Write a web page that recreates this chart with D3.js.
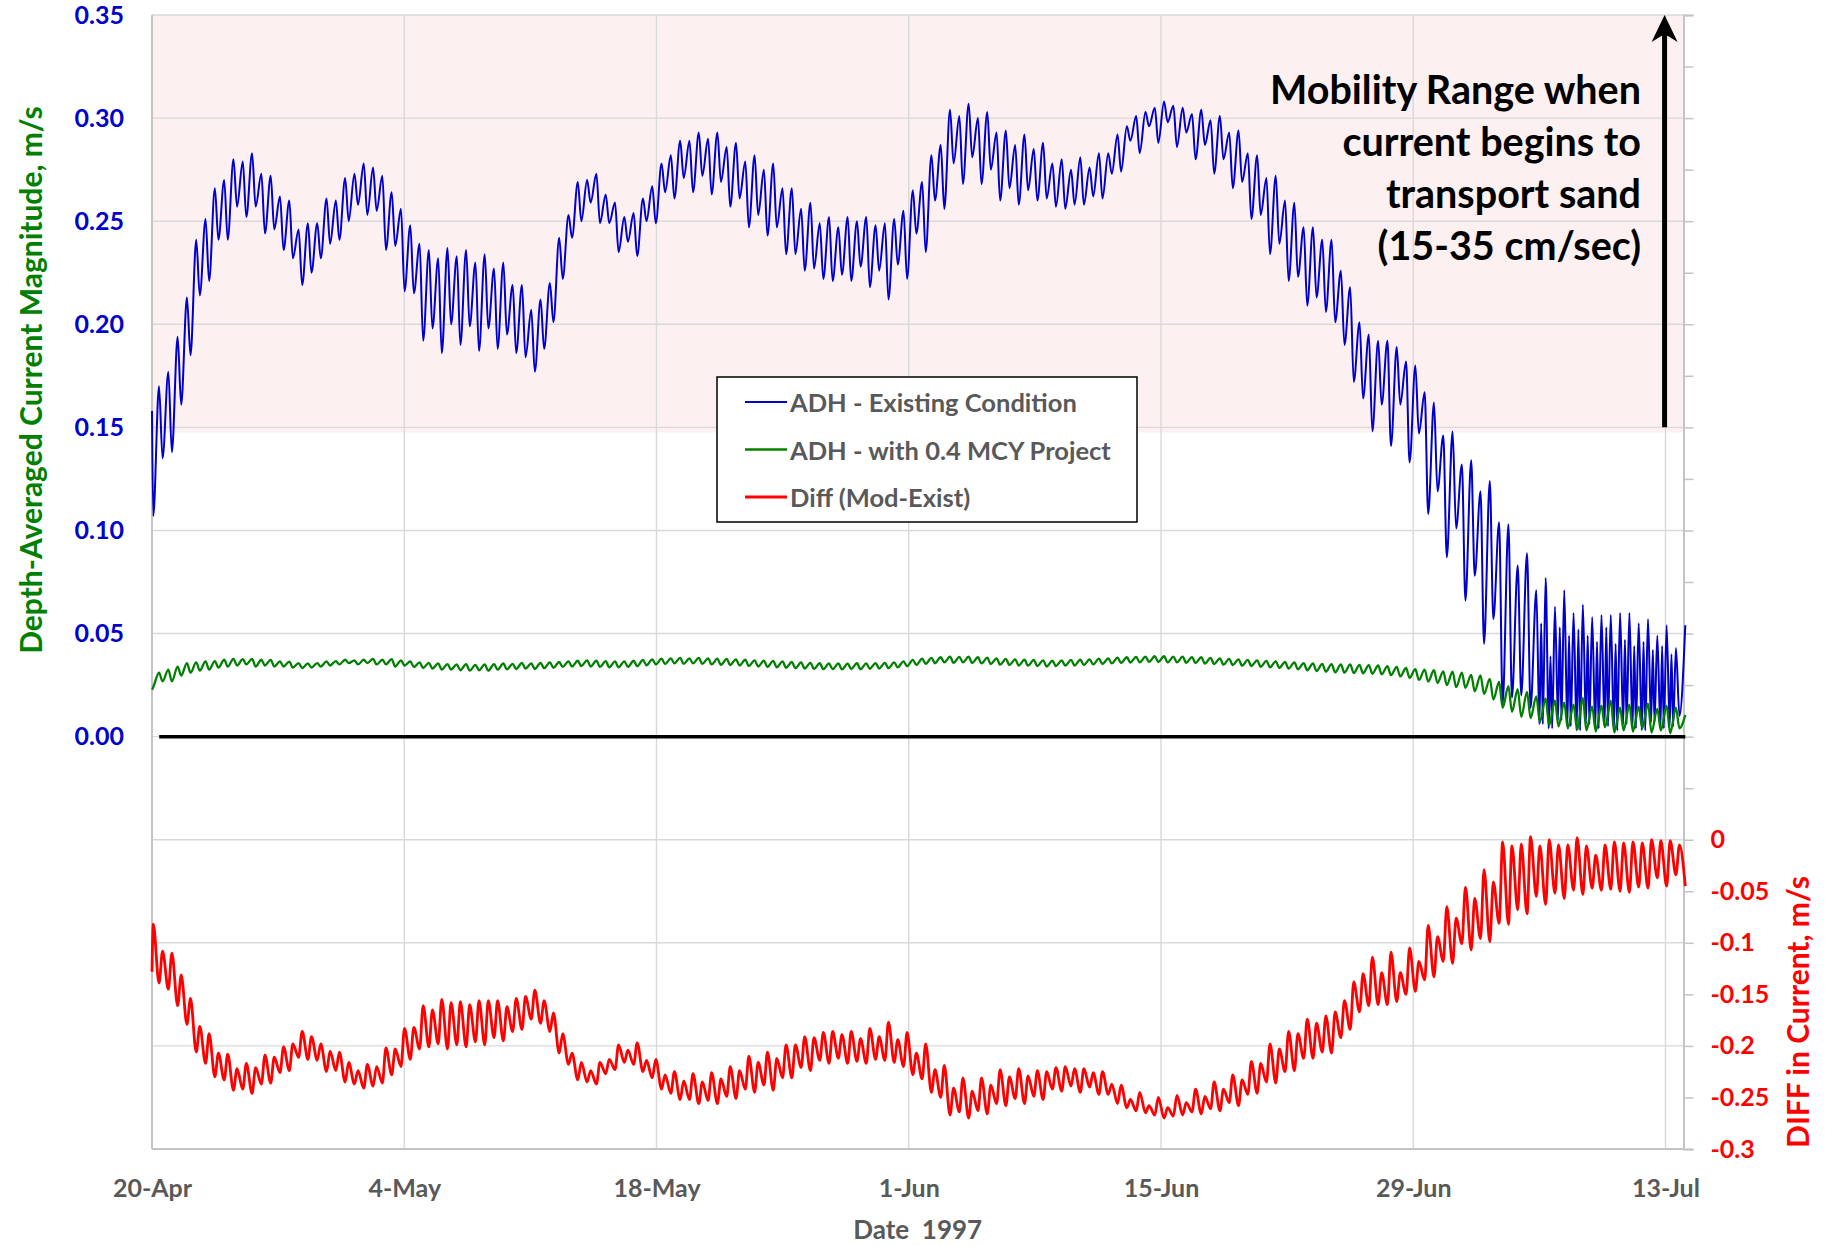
<!DOCTYPE html>
<html>
<head>
<meta charset="utf-8">
<script src="https://cdn.jsdelivr.net/npm/d3@7"></script>
<style>
  body { margin: 0; background: #fff; }
  svg text { font-family: Lato, "Open Sans", sans-serif; font-weight: bold; }
</style>
</head>
<body>
<div id="chart"></div>
<script>
// Model output, 20-Apr to 14-Jul 1997. The series are stored as the tidal
// highs and lows, one pair per M2 cycle.
var startDate = Date.UTC(1997, 3, 20);
var endDate = Date.UTC(1997, 6, 14);
var firstPeakDay = 0.39;     // first tidal high, days after 20-Apr
var cycleDays = 0.5165;      // spacing of tidal highs
var lastDay = 85.1;          // last model record

// ADH - Existing Condition (m/s)
var existingStart = 0.158, existingEnd = 0.054;
var existingPeaks = [
  0.170, 0.177, 0.194, 0.213, 0.241, 0.251, 0.266, 0.270, 0.280, 0.279,
  0.283, 0.273, 0.272, 0.262, 0.260, 0.246, 0.249, 0.249, 0.261, 0.260,
  0.271, 0.273, 0.278, 0.276, 0.272, 0.264, 0.256, 0.248, 0.239, 0.236,
  0.232, 0.237, 0.233, 0.236, 0.230, 0.234, 0.227, 0.230, 0.219, 0.219,
  0.207, 0.212, 0.220, 0.242, 0.253, 0.269, 0.270, 0.273, 0.263, 0.259,
  0.252, 0.254, 0.261, 0.267, 0.278, 0.282, 0.289, 0.289, 0.293, 0.290,
  0.293, 0.286, 0.288, 0.279, 0.282, 0.275, 0.278, 0.266, 0.266, 0.256,
  0.259, 0.249, 0.252, 0.247, 0.252, 0.250, 0.252, 0.248, 0.249, 0.251,
  0.255, 0.265, 0.269, 0.282, 0.287, 0.304, 0.301, 0.307, 0.300, 0.303,
  0.293, 0.294, 0.287, 0.292, 0.285, 0.288, 0.278, 0.280, 0.275, 0.281,
  0.276, 0.283, 0.283, 0.292, 0.296, 0.301, 0.303, 0.305, 0.308, 0.306,
  0.305, 0.302, 0.304, 0.299, 0.301, 0.293, 0.294, 0.283, 0.282, 0.271,
  0.272, 0.260, 0.259, 0.247, 0.247, 0.241, 0.241, 0.226, 0.218, 0.201,
  0.195, 0.192, 0.192, 0.189, 0.182, 0.180, 0.167, 0.162, 0.146, 0.148,
  0.132, 0.134, 0.119, 0.124, 0.104, 0.103, 0.083, 0.089, 0.071, 0.077,
  0.063, 0.071, 0.060, 0.064, 0.058, 0.059, 0.059, 0.060, 0.060, 0.055,
  0.057, 0.049, 0.054, 0.043
];
var existingLows = [
  0.107,
  0.135, 0.138, 0.161, 0.185, 0.214, 0.221, 0.241, 0.241, 0.257, 0.252,
  0.257, 0.244, 0.246, 0.236, 0.232, 0.219, 0.225, 0.232, 0.239, 0.241,
  0.250, 0.258, 0.253, 0.255, 0.236, 0.238, 0.216, 0.215, 0.192, 0.198,
  0.186, 0.200, 0.190, 0.199, 0.187, 0.198, 0.188, 0.195, 0.186, 0.184,
  0.177, 0.188,
  0.201, 0.222, 0.242, 0.250, 0.259, 0.249, 0.249, 0.235, 0.240, 0.233,
  0.250, 0.249, 0.264, 0.261, 0.271, 0.264, 0.272, 0.263, 0.269, 0.257,
  0.261, 0.247, 0.253, 0.243, 0.247, 0.234, 0.234, 0.226, 0.227, 0.222,
  0.221, 0.224, 0.221, 0.228, 0.218, 0.226, 0.212, 0.229, 0.222, 0.244,
  0.235, 0.260, 0.256, 0.278, 0.268, 0.281, 0.268, 0.275, 0.260, 0.266,
  0.258, 0.265, 0.260, 0.261, 0.257, 0.256, 0.258, 0.258, 0.262, 0.261,
  0.273, 0.274, 0.289, 0.283, 0.296, 0.288, 0.298, 0.286, 0.293, 0.280,
  0.287, 0.273, 0.280, 0.266, 0.269, 0.251, 0.253, 0.234, 0.239, 0.221,
  0.223, 0.209, 0.213, 0.206, 0.201, 0.190, 0.172, 0.164, 0.148, 0.161,
  0.141, 0.161, 0.133, 0.147, 0.108, 0.119, 0.087, 0.101, 0.066, 0.078,
  0.045, 0.057, 0.016, 0.019, 0.020, 0.014, 0.006, 0.004, 0.008, 0.005,
  0.003, 0.006, 0.004, 0.005, 0.003, 0.006, 0.004, 0.003, 0.007, 0.004,
  0.005, 0.010
];
// late in the record the low water splits: small secondary bump between two near-zero lows
var existingSplitFrom = 149;
var existingSplitBumps = [
  0.055, 0.039, 0.053, 0.049, 0.052, 0.049, 0.046, 0.053, 0.045, 0.047,
  0.044, 0.046, 0.042, 0.044, 0.040
];

// ADH - with 0.4 MCY Project (m/s)
var projectStart = 0.0228, projectEnd = 0.0105;
var projectPeaks = [
  0.0310, 0.0325, 0.0340, 0.0357, 0.0360, 0.0365, 0.0366, 0.0373, 0.0377, 0.0376,
  0.0377, 0.0373, 0.0372, 0.0365, 0.0364, 0.0357, 0.0355, 0.0357, 0.0365, 0.0366,
  0.0373, 0.0370, 0.0373, 0.0377, 0.0373, 0.0376, 0.0370, 0.0365, 0.0360, 0.0358,
  0.0355, 0.0352, 0.0350, 0.0352, 0.0348, 0.0350, 0.0352, 0.0355, 0.0353, 0.0358,
  0.0355, 0.0358, 0.0360, 0.0362, 0.0365, 0.0368, 0.0370, 0.0368, 0.0366, 0.0365,
  0.0365, 0.0368, 0.0372, 0.0375, 0.0378, 0.0380, 0.0382, 0.0380, 0.0382, 0.0380,
  0.0378, 0.0377, 0.0375, 0.0373, 0.0370, 0.0368, 0.0367, 0.0365, 0.0362, 0.0360,
  0.0358, 0.0356, 0.0355, 0.0355, 0.0354, 0.0356, 0.0355, 0.0357, 0.0358, 0.0360,
  0.0365, 0.0372, 0.0378, 0.0382, 0.0385, 0.0388, 0.0387, 0.0388, 0.0385, 0.0383,
  0.0380, 0.0377, 0.0375, 0.0373, 0.0372, 0.0370, 0.0368, 0.0370, 0.0372, 0.0373,
  0.0375, 0.0378, 0.0380, 0.0383, 0.0385, 0.0387, 0.0388, 0.0390, 0.0390, 0.0388,
  0.0388, 0.0386, 0.0385, 0.0382, 0.0380, 0.0377, 0.0375, 0.0372, 0.0370, 0.0367,
  0.0365, 0.0362, 0.0360, 0.0357, 0.0355, 0.0353, 0.0352, 0.0350, 0.0350, 0.0348,
  0.0347, 0.0345, 0.0342, 0.0338, 0.0333, 0.0327, 0.0325, 0.0322, 0.0317, 0.0315,
  0.0310, 0.0300, 0.0297, 0.0280, 0.0265, 0.0245, 0.0230, 0.0217, 0.0195, 0.0185,
  0.0176, 0.0165, 0.0155, 0.0187, 0.0146, 0.0150, 0.0175, 0.0140, 0.0155, 0.0145,
  0.0160, 0.0135, 0.0150, 0.0140
];
var projectLows = [
  0.0240,
  0.0268, 0.0268, 0.0296, 0.0310, 0.0320, 0.0325, 0.0335, 0.0340, 0.0345, 0.0350,
  0.0340, 0.0345, 0.0340, 0.0340, 0.0335, 0.0333, 0.0335, 0.0340, 0.0345, 0.0350,
  0.0357, 0.0350, 0.0357, 0.0350, 0.0350, 0.0340, 0.0345, 0.0338, 0.0333, 0.0330,
  0.0325, 0.0325, 0.0322, 0.0320, 0.0322, 0.0320, 0.0325, 0.0326, 0.0328, 0.0330,
  0.0328, 0.0332, 0.0334, 0.0338, 0.0340, 0.0342, 0.0340, 0.0338, 0.0336, 0.0336,
  0.0338, 0.0342, 0.0346, 0.0350, 0.0352, 0.0355, 0.0353, 0.0355, 0.0353, 0.0350,
  0.0348, 0.0347, 0.0345, 0.0342, 0.0340, 0.0338, 0.0336, 0.0334, 0.0332, 0.0330,
  0.0328, 0.0327, 0.0327, 0.0326, 0.0328, 0.0327, 0.0329, 0.0330, 0.0332, 0.0336,
  0.0342, 0.0348, 0.0353, 0.0356, 0.0360, 0.0358, 0.0360, 0.0357, 0.0355, 0.0352,
  0.0349, 0.0347, 0.0345, 0.0344, 0.0342, 0.0340, 0.0342, 0.0344, 0.0345, 0.0347,
  0.0350, 0.0352, 0.0355, 0.0357, 0.0359, 0.0360, 0.0362, 0.0362, 0.0360, 0.0360,
  0.0358, 0.0357, 0.0354, 0.0352, 0.0349, 0.0347, 0.0344, 0.0342, 0.0339, 0.0336,
  0.0333, 0.0330, 0.0327, 0.0322, 0.0318, 0.0315, 0.0312, 0.0310, 0.0308, 0.0307,
  0.0305, 0.0303, 0.0298, 0.0292, 0.0285, 0.0275, 0.0267, 0.0260, 0.0250, 0.0240,
  0.0237, 0.0220, 0.0207, 0.0180, 0.0140, 0.0120, 0.0096, 0.0090, 0.0070, 0.0056,
  0.0050, 0.0040, 0.0035, 0.0030, 0.0025, 0.0045, 0.0020, 0.0030, 0.0025, 0.0040,
  0.0020, 0.0030, 0.0016, 0.0040
];

// Diff (Mod-Exist), right axis (m/s): values at the times of the highs and lows above
var diffStart = -0.128, diffEnd = -0.045;
var diffAtPeaks = [
  -0.139, -0.145, -0.161, -0.179, -0.206, -0.217, -0.230, -0.233, -0.243, -0.242,
  -0.246, -0.237, -0.236, -0.226, -0.224, -0.211, -0.213, -0.214, -0.225, -0.224,
  -0.235, -0.237, -0.241, -0.239, -0.236, -0.228, -0.220, -0.213, -0.203, -0.201,
  -0.198, -0.203, -0.199, -0.201, -0.196, -0.199, -0.192, -0.195, -0.186, -0.184,
  -0.174, -0.178, -0.186, -0.207, -0.218, -0.233, -0.235, -0.237,
  -0.227, -0.223, -0.216, -0.218, -0.225, -0.231, -0.242, -0.246, -0.252, -0.252,
  -0.256, -0.253, -0.256, -0.249, -0.251, -0.242, -0.245, -0.238, -0.243, -0.231,
  -0.231, -0.221, -0.224, -0.214, -0.217, -0.212, -0.217, -0.215, -0.217, -0.213,
  -0.214, -0.216, -0.220, -0.228, -0.232, -0.245, -0.250, -0.267, -0.264, -0.270,
  -0.263, -0.266, -0.256, -0.258, -0.251, -0.256, -0.249, -0.252, -0.242, -0.244,
  -0.239, -0.245, -0.240, -0.247, -0.247, -0.256, -0.260, -0.263, -0.265, -0.267,
  -0.270, -0.268, -0.267, -0.264, -0.266, -0.261, -0.263, -0.255, -0.258, -0.247,
  -0.246, -0.235, -0.236, -0.225, -0.224, -0.212, -0.212, -0.206, -0.207, -0.192,
  -0.184, -0.167, -0.161, -0.160, -0.160, -0.157, -0.150, -0.147, -0.136, -0.133,
  -0.118, -0.120, -0.101, -0.107, -0.096, -0.099, -0.081, -0.082, -0.068, -0.072,
  -0.055, -0.063, -0.052, -0.057, -0.049, -0.053, -0.047, -0.049, -0.048, -0.050,
  -0.051, -0.046, -0.047, -0.037, -0.045, -0.034
];
var diffAtLows = [
  -0.082, -0.108, -0.110, -0.131, -0.154, -0.181, -0.188, -0.207, -0.208, -0.222,
  -0.217, -0.221, -0.209, -0.211, -0.201, -0.198, -0.186, -0.191, -0.198, -0.205,
  -0.206, -0.216, -0.224, -0.218, -0.220, -0.202, -0.203, -0.183, -0.182, -0.161,
  -0.165, -0.155, -0.158, -0.157, -0.160, -0.156, -0.156, -0.156, -0.162, -0.154,
  -0.152, -0.146, -0.156, -0.168, -0.188, -0.207, -0.216, -0.224, -0.216,
  -0.213, -0.199, -0.204, -0.197, -0.214, -0.213, -0.228, -0.225, -0.234, -0.227,
  -0.235, -0.226, -0.232, -0.220, -0.224, -0.210, -0.216, -0.206, -0.212, -0.199,
  -0.199, -0.191, -0.192, -0.187, -0.186, -0.189, -0.186, -0.193, -0.183, -0.191,
  -0.177, -0.194, -0.187, -0.207, -0.198, -0.223, -0.219, -0.241, -0.231, -0.244,
  -0.231, -0.238, -0.223, -0.230, -0.222, -0.229, -0.224, -0.225, -0.221, -0.220,
  -0.222, -0.222, -0.226, -0.225, -0.237, -0.238, -0.252, -0.245, -0.258, -0.250,
  -0.260, -0.248, -0.255, -0.242, -0.249, -0.235, -0.242, -0.228, -0.233, -0.215,
  -0.217, -0.198, -0.203, -0.186, -0.188, -0.174, -0.178, -0.171, -0.167, -0.156,
  -0.138, -0.130, -0.114, -0.129, -0.109, -0.129, -0.105, -0.118, -0.083, -0.094,
  -0.065, -0.076, -0.046, -0.057, -0.029, -0.041, -0.002, -0.006, -0.004, 0.003,
  -0.006, 0.000, -0.005, -0.005, 0.002, -0.006, -0.015, -0.005, -0.002, -0.003,
  -0.002, -0.003, 0.000, -0.001, -0.001, -0.005
];

// axes and annotation
var leftTicks = [-0.2, -0.15, -0.1, -0.05, 0, 0.05, 0.1, 0.15, 0.2, 0.25, 0.3, 0.35];
var rightTicks = d3.range(-6, 17).map(function(i) { return +(i * 0.05).toFixed(2); });
var dateTicks = d3.range(0, 7).map(function(i) { return new Date(startDate + i * 14 * 864e5); });
var mobilityBand = [0.1475, 0.35];
var mobilityArrow = { day: 83.95, from: 0.15, to: 0.35 };
var mobilityText = ["Mobility Range when", "current begins to", "transport sand", "(15-35 cm/sec)"];
var zeroLine = [{ t: 0.4, v: 0 }, { t: lastDay, v: 0 }];

var legendItems = [
  { name: "ADH - Existing Condition", color: "#0000cc", width: 2 },
  { name: "ADH - with 0.4 MCY Project", color: "#008000", width: 2.5 },
  { name: "Diff (Mod-Exist)", color: "#ff0000", width: 3 }
];

function dayToDate(t) { return new Date(startDate + t * 864e5); }

// highs at firstPeakDay + k*cycle, lows 0.38 of a cycle after each high
function buildSeries(start, peaks, lows, end, bumps, bumpFrom) {
  var pts = [{ t: 0, v: start }];
  lows.forEach(function(lo, j) {
    var base = firstPeakDay + (j - 1) * cycleDays;
    if (bumps && j >= bumpFrom && j - bumpFrom < bumps.length) {
      pts.push({ t: base + 0.33 * cycleDays, v: lo });
      pts.push({ t: base + 0.52 * cycleDays, v: bumps[j - bumpFrom] });
      pts.push({ t: base + 0.70 * cycleDays, v: lo });
    } else {
      pts.push({ t: base + 0.38 * cycleDays, v: lo });
    }
    if (j < peaks.length) pts.push({ t: firstPeakDay + j * cycleDays, v: peaks[j] });
  });
  pts.push({ t: lastDay, v: end });
  return pts;
}

function drawChart() {
  var existing = buildSeries(existingStart, existingPeaks, existingLows, existingEnd, existingSplitBumps, existingSplitFrom);
  var project = buildSeries(projectStart, projectPeaks, projectLows, projectEnd);
  var diff = buildSeries(diffStart, diffAtPeaks, diffAtLows, diffEnd);

  var svg = d3.select("#chart").append("svg")
              .attr("width", 1825)
              .attr("height", 1246);

  svg.append("rect").attr("width", 1825).attr("height", 1246).attr("fill", "#fff");

  var plotLeft = 152, plotRight = 1683.5, plotTop = 15, plotBottom = 1149;

  var x = d3.scaleUtc()
            .domain([new Date(startDate), new Date(endDate)])
            .range([plotLeft, plotRight]);

  var yL = d3.scaleLinear().domain([-0.2, 0.35]).range([plotBottom, plotTop]);
  var yR = d3.scaleLinear().domain([-0.3, 0.8]).range([plotBottom, plotTop]);

  // pink mobility band
  svg.append("rect")
     .attr("x", plotLeft)
     .attr("y", yL(mobilityBand[1]))
     .attr("width", plotRight - plotLeft)
     .attr("height", yL(mobilityBand[0]) - yL(mobilityBand[1]))
     .attr("fill", "#fdf0f0");

  // gridlines
  svg.append("g").selectAll("line")
     .data(leftTicks)
     .enter().append("line")
     .attr("x1", plotLeft).attr("x2", plotRight)
     .attr("y1", function(d) { return yL(d); })
     .attr("y2", function(d) { return yL(d); })
     .attr("stroke", "#d9d9d9")
     .attr("stroke-width", 1.4);

  svg.append("g").selectAll("line")
     .data(dateTicks)
     .enter().append("line")
     .attr("x1", function(d) { return x(d); })
     .attr("x2", function(d) { return x(d); })
     .attr("y1", plotTop).attr("y2", plotBottom)
     .attr("stroke", "#d9d9d9")
     .attr("stroke-width", 1.4);

  // axis lines
  svg.append("line").attr("x1", plotLeft).attr("x2", plotLeft).attr("y1", plotTop).attr("y2", plotBottom)
     .attr("stroke", "#c4c4c4").attr("stroke-width", 2);
  svg.append("line").attr("x1", plotLeft).attr("x2", plotRight).attr("y1", plotBottom).attr("y2", plotBottom)
     .attr("stroke", "#c4c4c4").attr("stroke-width", 2);

  // left axis labels (only the positive half is labelled)
  var leftAxis = svg.append("g")
     .attr("transform", "translate(" + plotLeft + ",0)")
     .call(d3.axisLeft(yL).tickValues(leftTicks).tickSize(0).tickPadding(28)
             .tickFormat(function(d) { return d >= 0 ? d3.format(".2f")(d) : ""; }));
  leftAxis.select(".domain").remove();
  leftAxis.selectAll("text").attr("fill", "#0000cc").style("font-size", "25px");

  // right axis (only the negative half is labelled)
  var rightAxis = svg.append("g")
     .attr("transform", "translate(" + plotRight + ",0)")
     .call(d3.axisRight(yR).tickValues(rightTicks).tickSize(10).tickPadding(17)
             .tickFormat(function(d) { return d <= 0 ? String(+d.toFixed(2)) : ""; }));
  rightAxis.select(".domain").attr("stroke", "#c4c4c4").attr("stroke-width", 2);
  rightAxis.selectAll("line").attr("stroke", "#c4c4c4").attr("stroke-width", 1.5);
  rightAxis.selectAll("text").attr("fill", "#ff0000").style("font-size", "25px");

  // date axis
  var bottomAxis = svg.append("g")
     .attr("transform", "translate(0," + plotBottom + ")")
     .call(d3.axisBottom(x).tickValues(dateTicks).tickSize(0).tickPadding(30)
             .tickFormat(d3.utcFormat("%-d-%b")));
  bottomAxis.select(".domain").remove();
  bottomAxis.selectAll("text").attr("fill", "#595959").style("font-size", "25px");

  // axis titles
  svg.append("text")
     .attr("transform", "translate(30,380) rotate(-90)")
     .attr("text-anchor", "middle")
     .attr("dominant-baseline", "central")
     .attr("fill", "#008000")
     .style("font-size", "30px")
     .text("Depth-Averaged Current Magnitude, m/s");

  svg.append("text")
     .attr("transform", "translate(1797,1012) rotate(-90)")
     .attr("text-anchor", "middle")
     .attr("dominant-baseline", "central")
     .attr("fill", "#ff0000")
     .style("font-size", "30px")
     .text("DIFF in Current, m/s");

  svg.append("text")
     .attr("x", (plotLeft + plotRight) / 2)
     .attr("y", 1229)
     .attr("text-anchor", "middle")
     .attr("dominant-baseline", "central")
     .attr("fill", "#595959")
     .style("font-size", "26px")
     .style("white-space", "pre")
     .text("Date  1997");

  // series
  var lineL = d3.line()
                .x(function(d) { return x(dayToDate(d.t)); })
                .y(function(d) { return yL(d.v); })
                .curve(d3.curveMonotoneX);
  var lineR = d3.line()
                .x(function(d) { return x(dayToDate(d.t)); })
                .y(function(d) { return yR(d.v); })
                .curve(d3.curveMonotoneX);

  svg.append("path")
     .datum(zeroLine)
     .attr("fill", "none")
     .attr("stroke", "#000")
     .attr("stroke-width", 3.5)
     .attr("d", lineL);

  svg.append("path")
     .datum(existing)
     .attr("fill", "none")
     .attr("stroke", "#0000cc")
     .attr("stroke-width", 2)
     .attr("d", lineL);

  svg.append("path")
     .datum(project)
     .attr("fill", "none")
     .attr("stroke", "#008000")
     .attr("stroke-width", 2.3)
     .attr("d", lineL);

  svg.append("path")
     .datum(diff)
     .attr("fill", "none")
     .attr("stroke", "#ff0000")
     .attr("stroke-width", 2.8)
     .attr("d", lineR);

  // mobility arrow and note
  var ax = x(dayToDate(mobilityArrow.day));
  var aTop = yL(mobilityArrow.to);
  svg.append("line")
     .attr("x1", ax).attr("x2", ax)
     .attr("y1", yL(mobilityArrow.from)).attr("y2", aTop + 12)
     .attr("stroke", "#000")
     .attr("stroke-width", 5);
  svg.append("path")
     .attr("d", "M" + ax + "," + aTop + " L" + (ax + 13) + "," + (aTop + 27) +
                " L" + ax + "," + (aTop + 19) + " L" + (ax - 13) + "," + (aTop + 27) + " Z")
     .attr("fill", "#000");

  svg.append("g").selectAll("text")
     .data(mobilityText)
     .enter().append("text")
     .attr("x", 1641)
     .attr("y", function(d, i) { return 104 + i * 52; })
     .attr("text-anchor", "end")
     .attr("fill", "#000")
     .style("font-size", "39.5px")
     .text(function(d) { return d; });

  // legend
  var legend = svg.append("g").attr("transform", "translate(717,377)");
  legend.append("rect")
        .attr("width", 420).attr("height", 145)
        .attr("fill", "#fff")
        .attr("stroke", "#000")
        .attr("stroke-width", 1.5);
  var rows = legend.selectAll(".row")
        .data(legendItems)
        .enter().append("g")
        .attr("class", "row")
        .attr("transform", function(d, i) { return "translate(0," + (25 + i * 47.5) + ")"; });
  rows.append("line")
      .attr("x1", 28).attr("x2", 70)
      .attr("stroke", function(d) { return d.color; })
      .attr("stroke-width", function(d) { return d.width; });
  rows.append("text")
      .attr("x", 73)
      .attr("dominant-baseline", "central")
      .attr("fill", "#595959")
      .style("font-size", "25.5px")
      .text(function(d) { return d.name; });
}

drawChart();
</script>
</body>
</html>
